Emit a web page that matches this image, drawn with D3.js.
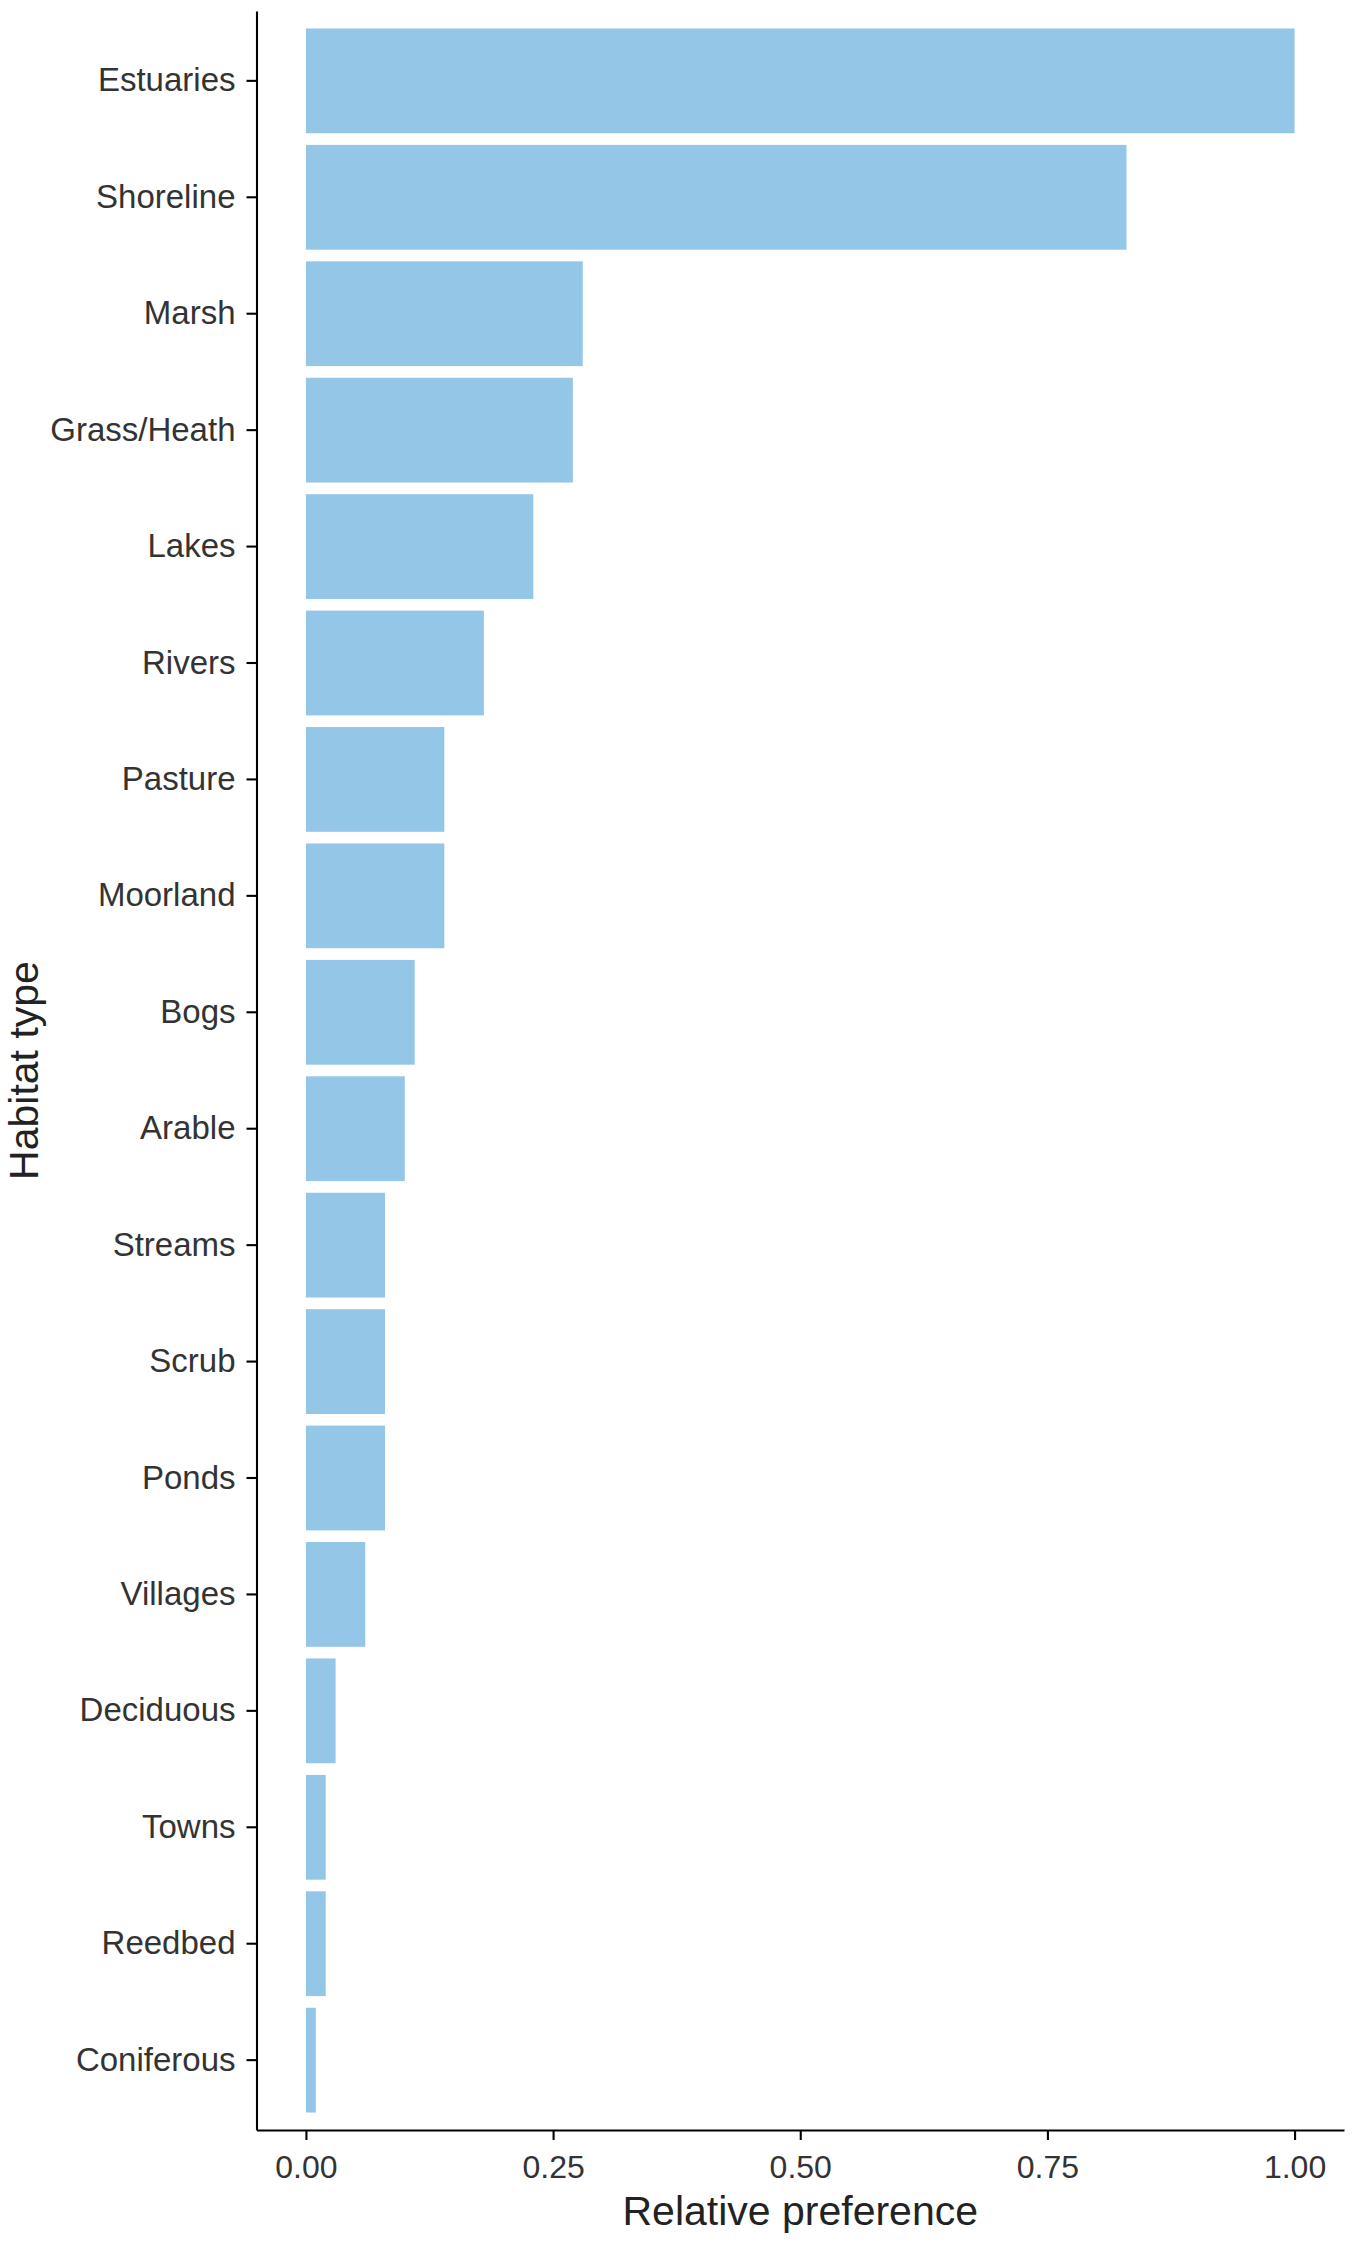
<!DOCTYPE html>
<html>
<head>
<meta charset="utf-8">
<script src="https://cdn.jsdelivr.net/npm/d3@7"></script>
<style>
  body { margin: 0; background: #fff; }
  text { font-family: "Liberation Sans", Arial, sans-serif; }
</style>
</head>
<body>
<div id="chart"></div>
<script>
// habitat categories, top to bottom
const habitats = ["Estuaries", "Shoreline", "Marsh", "Grass/Heath", "Lakes", "Rivers",
    "Pasture", "Moorland", "Bogs", "Arable", "Streams", "Scrub", "Ponds", "Villages",
    "Deciduous", "Towns", "Reedbed", "Coniferous"];
// relative preference
const preference = [1.00, 0.83, 0.28, 0.27, 0.23, 0.18, 0.14, 0.14, 0.11, 0.10,
    0.08, 0.08, 0.08, 0.06, 0.03, 0.02, 0.02, 0.01];
const xTicks = [0, 0.25, 0.5, 0.75, 1];

const width = 1358, height = 2244;
const margin = { top: 11, right: 14, bottom: 114, left: 256.5 };

const data = habitats.map((h, i) => ({ habitat: h, value: preference[i] }));

const svg = d3.select("#chart").append("svg")
    .attr("width", width)
    .attr("height", height);

// x: continuous with 5% expansion on each side (like ggplot)
const x = d3.scaleLinear()
    .domain([-0.05, 1.05])
    .range([margin.left, width - margin.right]);

// y: discrete bands, 0.9 bar width and 0.6 expansion at the ends
const y = d3.scaleBand()
    .domain(habitats)
    .range([margin.top, height - margin.bottom])
    .paddingInner(0.1)
    .paddingOuter(0.15);

// bars
svg.append("g")
    .selectAll("rect")
    .data(data)
    .join("rect")
    .attr("x", x(0))
    .attr("y", d => y(d.habitat))
    .attr("width", d => x(d.value) - x(0))
    .attr("height", y.bandwidth())
    .attr("fill", "#93c6e7");

// y axis
const yAxis = svg.append("g")
    .attr("transform", `translate(${margin.left},0)`)
    .call(d3.axisLeft(y).tickSizeInner(10).tickSizeOuter(0).tickPadding(11));
yAxis.select(".domain").attr("stroke", "#000").attr("stroke-width", 2.1);
yAxis.selectAll(".tick line").attr("stroke", "#000").attr("stroke-width", 2.1);
yAxis.selectAll(".tick text")
    .attr("fill", "#333")
    .style("font-size", "33px");

// x axis
const xAxis = svg.append("g")
    .attr("transform", `translate(0,${height - margin.bottom})`)
    .call(d3.axisBottom(x).tickValues(xTicks).tickFormat(d3.format(".2f"))
        .tickSizeInner(10).tickSizeOuter(0).tickPadding(15));
xAxis.select(".domain").attr("stroke", "#000").attr("stroke-width", 2.1);
xAxis.selectAll(".tick line").attr("stroke", "#000").attr("stroke-width", 2.1);
xAxis.selectAll(".tick text")
    .attr("fill", "#333")
    .style("font-size", "32px");

// axis titles
svg.append("text")
    .attr("x", (margin.left + width - margin.right) / 2)
    .attr("y", 2225)
    .attr("text-anchor", "middle")
    .attr("fill", "#222")
    .style("font-size", "41px")
    .text("Relative preference");

svg.append("text")
    .attr("transform", `translate(38,${(margin.top + height - margin.bottom) / 2}) rotate(-90)`)
    .attr("text-anchor", "middle")
    .attr("fill", "#222")
    .style("font-size", "41px")
    .text("Habitat type");
</script>
</body>
</html>
